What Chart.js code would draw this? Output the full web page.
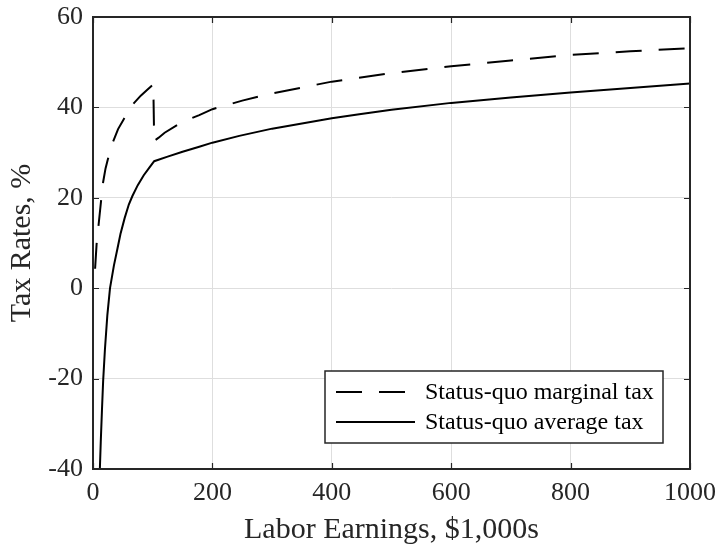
<!DOCTYPE html>
<html>
<head>
<meta charset="utf-8">
<script src="https://cdn.jsdelivr.net/npm/chart.js@4"></script>
<style>
  html, body { margin: 0; padding: 0; background: #ffffff; }
  #wrap { width: 720px; height: 549px; }
</style>
</head>
<body>
<div id="wrap"><canvas id="c" width="720" height="549"></canvas></div>
<script>
// Labor earnings in $1,000s and tax rates in percent
const marginalEarnings = [3.5, 6, 9.5, 13.5, 17, 21, 25, 33, 42, 51.5, 60, 67, 80, 90, 97.5, 101,
  102.5, 110, 120, 150, 178, 200, 250, 300, 400, 500, 600, 700, 800, 900, 1000];
const marginalRate = [4.3, 9.7, 14.2, 19.3, 23.5, 26.5, 28.6, 32.2, 35.2, 37.4, 39.2, 40.7, 42.6, 43.8, 44.7, 45.1,
  32.6, 33.3, 34.4, 36.8, 38.3, 39.6, 41.5, 43.1, 45.7, 47.6, 49.1, 50.4, 51.6, 52.4, 53.1];

const averageEarnings = [11.5, 13, 15, 17, 20, 24, 28.5, 35, 41, 46, 53, 60, 66, 75, 85, 95, 102.5,
  125, 150, 178, 200, 245, 300, 400, 446, 500, 600, 700, 800, 900, 1000];
const averageRate = [-40, -34, -27, -20.5, -13.5, -6, 0, 5, 8.8, 12, 15.5, 18.5, 20.4, 22.8, 25, 26.8, 28.1,
  29.1, 30.2, 31.3, 32.2, 33.7, 35.3, 37.6, 38.5, 39.5, 41, 42.2, 43.3, 44.3, 45.3];

const seriesLabels = ['Status-quo marginal tax', 'Status-quo average tax'];
const xTickValues = [0, 200, 400, 600, 800, 1000];
const yTickValues = [-40, -20, 0, 20, 40, 60];

const SERIF = "'Liberation Serif', 'Times New Roman', Times, serif";
const AXIS_COLOR = '#262626';

const toPoints = (xs, ys) => xs.map((x, i) => ({ x: x, y: ys[i] }));

// Box around the plot area with inward tick marks on all four sides
const axesBox = {
  id: 'axesBox',
  afterDatasetsDraw(chart) {
    const { ctx, chartArea: a, scales } = chart;
    const tick = 6;
    ctx.save();
    ctx.strokeStyle = AXIS_COLOR;
    ctx.lineWidth = 1.2;
    ctx.beginPath();
    scales.x.ticks.forEach(t => {
      const px = Math.round(scales.x.getPixelForValue(t.value)) + 0.5;
      ctx.moveTo(px, a.bottom); ctx.lineTo(px, a.bottom - tick);
      ctx.moveTo(px, a.top); ctx.lineTo(px, a.top + tick);
    });
    scales.y.ticks.forEach(t => {
      const py = Math.round(scales.y.getPixelForValue(t.value)) + 0.5;
      ctx.moveTo(a.left, py); ctx.lineTo(a.left + tick, py);
      ctx.moveTo(a.right, py); ctx.lineTo(a.right - tick, py);
    });
    ctx.stroke();
    ctx.lineWidth = 2;
    ctx.strokeRect(a.left, a.top, a.right - a.left, a.bottom - a.top);
    ctx.restore();
  }
};

// Boxed legend in the lower right corner of the plot area
const boxLegend = {
  id: 'boxLegend',
  afterDraw(chart) {
    const { ctx, chartArea: a } = chart;
    const w = 338, h = 72;
    const x0 = a.right - 27 - w, y0 = a.bottom - 26 - h;
    ctx.save();
    ctx.fillStyle = '#ffffff';
    ctx.fillRect(x0, y0, w, h);
    ctx.strokeStyle = AXIS_COLOR;
    ctx.lineWidth = 1.5;
    ctx.strokeRect(x0, y0, w, h);
    ctx.font = '24px ' + SERIF;
    ctx.textBaseline = 'middle';
    ctx.textAlign = 'left';
    chart.data.datasets.forEach((ds, i) => {
      const ly = y0 + 21 + i * 30;
      ctx.strokeStyle = ds.borderColor;
      ctx.lineWidth = ds.borderWidth;
      ctx.setLineDash(ds.borderDash || []);
      ctx.beginPath();
      ctx.moveTo(x0 + 11, ly);
      ctx.lineTo(x0 + 90, ly);
      ctx.stroke();
      ctx.setLineDash([]);
      ctx.fillStyle = '#000000';
      ctx.fillText(ds.label, x0 + 100, ly + 1);
    });
    ctx.restore();
  }
};

new Chart(document.getElementById('c'), {
  type: 'line',
  data: {
    datasets: [
      {
        label: seriesLabels[0],
        data: toPoints(marginalEarnings, marginalRate),
        borderColor: '#000000',
        borderWidth: 2,
        borderDash: [26, 17],
        pointRadius: 0,
        tension: 0,
        fill: false
      },
      {
        label: seriesLabels[1],
        data: toPoints(averageEarnings, averageRate),
        borderColor: '#000000',
        borderWidth: 2,
        pointRadius: 0,
        tension: 0,
        fill: false
      }
    ]
  },
  options: {
    responsive: false,
    animation: false,
    events: [],
    layout: { padding: { top: 17, right: 30, left: 0, bottom: 0 } },
    plugins: { legend: { display: false }, tooltip: { enabled: false } },
    scales: {
      x: {
        type: 'linear',
        min: 0,
        max: 1000,
        afterBuildTicks: s => { s.ticks = xTickValues.map(v => ({ value: v })); },
        afterFit: s => { s.height = 80; s.paddingLeft = 0; s.paddingRight = 0; },
        grid: { color: '#dedede', lineWidth: 1, drawTicks: false },
        border: { display: false },
        ticks: {
          color: AXIS_COLOR, padding: 9, maxRotation: 0,
          font: { family: SERIF, size: 26 },
          callback: v => String(v)
        },
        title: {
          display: true,
          text: 'Labor Earnings, $1,000s',
          color: AXIS_COLOR,
          padding: { top: 0, bottom: 1 },
          font: { family: SERIF, size: 30 }
        }
      },
      y: {
        type: 'linear',
        min: -40,
        max: 60,
        afterBuildTicks: s => { s.ticks = yTickValues.map(v => ({ value: v })); },
        afterFit: s => { s.width = 93; s.paddingTop = 0; s.paddingBottom = 0; },
        grid: { color: '#dedede', lineWidth: 1, drawTicks: false },
        border: { display: false },
        ticks: {
          color: AXIS_COLOR, padding: 10,
          font: { family: SERIF, size: 26 },
          callback: v => String(v)
        },
        title: {
          display: true,
          text: 'Tax Rates, %',
          color: AXIS_COLOR,
          padding: { top: 4, bottom: 0 },
          font: { family: SERIF, size: 30 }
        }
      }
    }
  },
  plugins: [axesBox, boxLegend]
});
</script>
</body>
</html>
